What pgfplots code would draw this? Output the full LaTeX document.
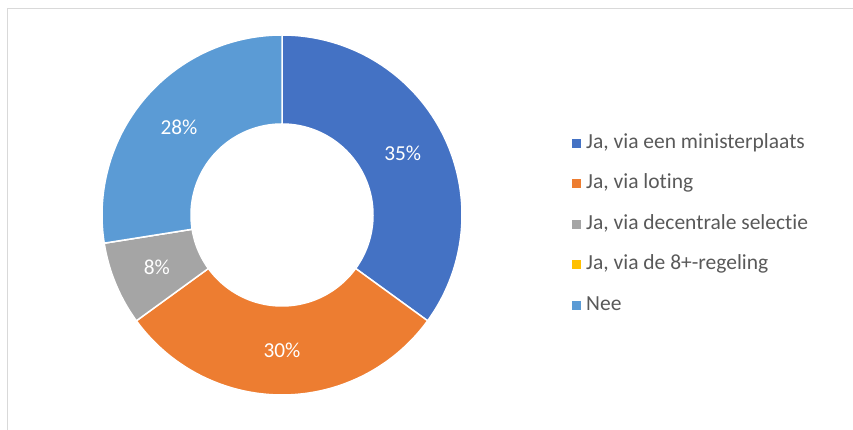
\documentclass[border=0pt]{standalone}
\usepackage{pgfplots}
\pgfplotsset{compat=1.18}
\usepackage{fontspec}
\setmainfont{Carlito}[Ligatures=NoCommon]
\definecolor{cBlue}{HTML}{4472C4}
\definecolor{cOrange}{HTML}{ED7D31}
\definecolor{cGray}{HTML}{A5A5A5}
\definecolor{cYellow}{HTML}{FFC000}
\definecolor{cLight}{HTML}{5B9BD5}
\definecolor{cText}{HTML}{595959}
\definecolor{cFrame}{HTML}{D9D9D9}
\newcommand\lbl{\fontsize{21.3}{25}\selectfont}
% #1 cumulative share before slice (%), #2 share (%), #3 colour, #4 legend, #5 label
\newcommand\donutslice[5]{%
  \addplot[fill=#3, draw=white, line width=1.5pt, domain=0:2, samples=201, variable=\t]
    ({282+ringr(\t)*cos(ringa(\t,#1,#2))},{215+ringr(\t)*sin(ringa(\t,#1,#2))}) -- cycle;
  \addlegendentry{#4}
  \node[text=white, font=\lbl, inner sep=0pt] at (axis cs:{282+135.5*cos(90-3.6*(#1+#2/2))},{215+135.5*sin(90-3.6*(#1+#2/2))}) {#5};
}
\begin{document}
\begin{tikzpicture}
\begin{axis}[
  name=ax,
  width=853pt, height=430pt, scale only axis,
  xmin=0, xmax=853, ymin=0, ymax=430,
  hide axis, clip=false,
  declare function={
    ringr(\t)=(\t<1.005)*180+(\t>1.005)*91;
    ringa(\t,\c,\v)=90-3.6*\c-3.6*\v*((\t<1.005)*\t+(\t>1.005)*(1-max(\t-1.01,0)/0.99));
  },
  legend cell align=left,
  legend style={draw=none, fill=none, at={(0.6706,0.690)}, anchor=north west,
    inner sep=0pt, row sep=20.5pt, column sep=5pt,
    font=\fontsize{21.5}{25}\selectfont, text=cText,
    nodes={inner sep=0pt, text height=15pt, text depth=5pt}},
  legend image code/.code={\fill[#1, draw=none] (0pt,-4.5pt) rectangle (9pt,4.5pt);},
]
\draw[cFrame, line width=1pt] (axis cs:7.5,0) -- (axis cs:7.5,421.5) -- (axis cs:853,421.5);
\donutslice{0}{35}{cBlue}{Ja, via een ministerplaats}{35\%}
\donutslice{35}{30}{cOrange}{Ja, via loting}{30\%}
\donutslice{65}{7.5}{cGray}{Ja, via decentrale selectie}{8\%}
\donutslice{72.5}{0}{cYellow}{Ja, via de 8+-regeling}{}
\donutslice{72.5}{27.5}{cLight}{Nee}{28\%}
\end{axis}
\pgfresetboundingbox
\path[use as bounding box] (ax.south west) rectangle (ax.north east);
\end{tikzpicture}
\end{document}
